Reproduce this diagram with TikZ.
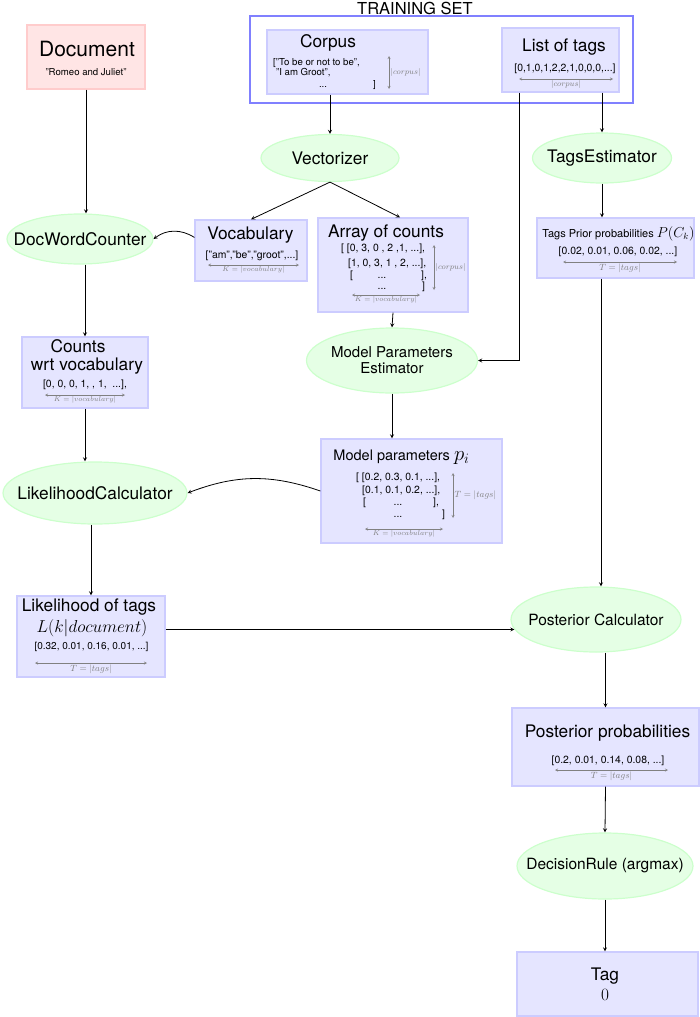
\documentclass[tikz,border=0pt]{standalone}
\usepackage{amsmath}
\usepackage[no-math]{fontspec}
\setmainfont{TeX Gyre Heros}
\usepackage{xcolor}
\usepackage{tikz}
\usetikzlibrary{arrows,shapes,positioning,calc}

\newcommand{\setfs}[1]{\fontsize{#1}{#1}\selectfont}
\newcommand{\proclabel}[1]{\makebox[0pt]{#1}}

\begin{document}
\begin{tikzpicture}[
    x=1pt, y=-1pt,
    box/.style={rectangle, draw=blue!20, fill=blue!10, line width=1.2pt, inner sep=0pt},
    docbox/.style={rectangle, draw=red!20, fill=red!10, line width=1.2pt, inner sep=0pt},
    proc/.style={ellipse, draw=green!20, fill=green!10, line width=1.2pt, inner sep=0pt, align=center, font=\setfs{17.3}},
    boxtitle/.style={anchor=base, inner sep=0pt, font=\setfs{17.3}},
    valtext/.style={anchor=base, inner sep=0pt, font=\setfs{10.4}},
    valleft/.style={anchor=base west, inner sep=0pt, font=\setfs{10.4}},
    arrow/.style={line width=0.8pt,->,>=stealth},
    dimline/.style={gray, line width=0.4pt,<->,>=stealth},
    dimlabel/.style={text=gray, inner sep=1.5pt, font=\setfs{8}},
    klabel/.style={dimlabel, font=\setfs{6.8}},
    tlabel/.style={dimlabel, font=\setfs{9}}
  ]
    \useasboundingbox (0,0) rectangle (700,1017);

    % Training set
    \node[rectangle, draw=blue!50, line width=1.2pt, minimum width=383pt, minimum height=87pt] (trainset) at (441.5,59.5) {};
    \node[font=\setfs{16.5}, inner sep=0pt] (trainlabel) at (415,8) {TRAINING SET};

    \node[box, minimum width=161pt, minimum height=64pt] (corpus) at (347.5,62) {};
    \node[boxtitle] (corpustitle) at (328,47) {Corpus};
    \node[valleft, font=\setfs{9.6}] (corpusl1) at (273,65) {["To be or not to be",};
    \node[valleft, font=\setfs{9.6}] (corpusl2) at (276,75) {"I am Groot",};
    \node[valtext, font=\setfs{9.6}] (corpusl3) at (323,87) {...};
    \node[valleft, font=\setfs{9.6}] (corpusl4) at (373,87) {]};
    \draw[dimline] (389,56) -- node[right, dimlabel] {$|corpus|$} (389,89);

    \node[box, minimum width=117pt, minimum height=64pt] (taglist) at (560.5,60) {};
    \node[boxtitle] (taglisttitle) at (564,51) {List of tags};
    \node[valtext] (taglistval) at (565,71) {[0,1,0,1,2,2,1,0,0,0,...]};
    \draw[dimline] (519,79) -- node[below, dimlabel] {$|corpus|$} (613,79);

    % Document
    \node[docbox, minimum width=118pt, minimum height=64pt] (docbox) at (86,57) {};
    \node[boxtitle, font=\setfs{21}] (doctitle) at (87,56) {Document};
    \node[valtext, font=\setfs{9.6}] (docval) at (86,75) {"Romeo and Juliet"};

    % Vectorizer and its outputs
    \node[proc, minimum width=138pt, minimum height=47pt] (vectorizer) at (330,158) {\proclabel{Vectorizer}};

    \node[box, minimum width=112pt, minimum height=61pt] (vocab) at (251,250.5) {};
    \node[boxtitle] (vocabtitle) at (250.5,239) {Vocabulary};
    \node[valtext] (vocabval) at (252,258) {["am","be","groot",...]};
    \draw[dimline] (208,265) -- node[below, klabel] {$K=|vocabulary|$} (299,265);

    \node[box, minimum width=150pt, minimum height=94pt] (arraybox) at (393,265) {};
    \node[boxtitle] (arraytitle) at (386,237) {Array of counts};
    \node[valleft] (arrayl1) at (341,251) {[ [0, 3, 0 , 2 ,1, ...],};
    \node[valleft] (arrayl2) at (348,266) {[1, 0, 3, 1 , 2, ...],};
    \node[valleft] (arrayl3a) at (350,278) {[};
    \node[valtext] (arrayl3b) at (382,278) {...};
    \node[valleft] (arrayl3c) at (421,278) {],};
    \node[valtext] (arrayl4a) at (382,289) {...};
    \node[valleft] (arrayl4b) at (422,289) {]};
    \draw[dimline] (434,245) -- node[right, dimlabel] {$|corpus|$} (434,290);
    \draw[dimline] (352,295) -- node[below, klabel] {$K=|vocabulary|$} (420,295);

    % Tags prior
    \node[proc, minimum width=139pt, minimum height=50pt] (tagsest) at (602,158) {\proclabel{TagsEstimator}};
    \node[box, minimum width=157pt, minimum height=60pt] (prior) at (615.5,248) {};
    \node[boxtitle, font=\setfs{11}] (priortitle) at (618.5,237) {Tags Prior probabilities {\setfs{13.5}$P(C_k)$}};
    \node[valtext] (priorval) at (618,254) {[0.02, 0.01, 0.06, 0.02, ...]};
    \draw[dimline] (563,262) -- node[below, tlabel] {$T=|tags|$} (677,262);

    % Document side
    \node[proc, minimum width=146pt, minimum height=50pt] (docword) at (80,239) {\proclabel{DocWordCounter}};
    \node[box, minimum width=126pt, minimum height=71pt] (counts) at (85,372.5) {};
    \node[boxtitle] (countstitle1) at (78,352) {Counts};
    \node[boxtitle] (countstitle2) at (87,370) {wrt vocabulary};
    \node[valtext] (countsval) at (85,387) {[0, 0, 0, 1, , 1, \ ...],};
    \draw[dimline] (45,395) -- node[below, klabel] {$K=|vocabulary|$} (125,395);

    % Model parameters
    \node[proc, minimum width=171pt, minimum height=65pt, font=\setfs{15}] (mpe) at (392,360.5) {\proclabel{Model Parameters}\\[1pt]\proclabel{Estimator}};
    \node[box, minimum width=181pt, minimum height=104pt] (params) at (411.5,491) {};
    \node[boxtitle, font=\setfs{14.5}] (paramstitle) at (401.5,460) {Model parameters {\setfs{20}$p_i$}};
    \node[valleft] (paramsl1) at (356,480) {[ [0.2, 0.3, 0.1, ...],};
    \node[valleft] (paramsl2) at (362,493) {[0.1, 0.1, 0.2, ...],};
    \node[valleft] (paramsl3a) at (363,505) {[};
    \node[valtext] (paramsl3b) at (398,505) {...};
    \node[valleft] (paramsl3c) at (433,505) {],};
    \node[valtext] (paramsl4a) at (398,517) {...};
    \node[valleft] (paramsl4b) at (442,517) {]};
    \draw[dimline] (453,473) -- node[right, tlabel] {$T=|tags|$} (453,518);
    \draw[dimline] (365,529) -- node[below, klabel] {$K=|vocabulary|$} (443,529);

    % Likelihood
    \node[proc, minimum width=184pt, minimum height=62pt] (likecalc) at (95,493) {\proclabel{LikelihoodCalculator}};
    \node[box, minimum width=148pt, minimum height=81pt] (likebox) at (91,636.5) {};
    \node[boxtitle] (liketitle) at (89,611.5) {Likelihood of tags};
    \node[boxtitle, font=\setfs{16.5}] (likemath) at (92,632) {$L(k|document)$};
    \node[valtext, font=\setfs{10}] (likeval) at (91.5,649) {[0.32, 0.01, 0.16, 0.01, ...]};
    \draw[dimline] (35,663) -- node[below, tlabel] {$T=|tags|$} (147,663);

    % Posterior and decision
    \node[proc, minimum width=170pt, minimum height=65pt, font=\setfs{15.5}] (postcalc) at (596,619.5) {\proclabel{Posterior Calculator}};
    \node[box, minimum width=187pt, minimum height=78pt] (postprob) at (605.5,747) {};
    \node[boxtitle] (posttitle) at (607.5,737) {Posterior probabilities};
    \node[valtext] (postval) at (608,763) {[0.2, 0.01, 0.14, 0.08, ...]};
    \draw[dimline] (555,770) -- node[below, tlabel] {$T=|tags|$} (668,770);

    \node[proc, minimum width=176pt, minimum height=66pt, font=\setfs{15.5}] (decision) at (605,866) {\proclabel{DecisionRule (argmax)}};
    \node[box, minimum width=181pt, minimum height=64pt] (tag) at (607.5,984) {};
    \node[boxtitle] (tagtitle) at (605,980) {Tag};
    \node[boxtitle] (tagval) at (605,1000) {$0$};

    % Training connections
    \draw[arrow] (vectorizer.north |- corpus.south) -- (vectorizer.north);
    \draw[arrow] (vectorizer.south) -- (vocab.north);
    \draw[arrow] (vectorizer.south) -- ([xshift=7pt]arraybox.north);
    \draw[arrow] (tagsest.north |- taglist.south) -- (tagsest.north);
    \draw[arrow] ([xshift=-41.5pt]taglist.south) |- (mpe.east);
    \draw[arrow] (arraybox.south) -- (mpe.north);
    \draw[arrow] (mpe.south) -- (mpe.south |- params.north);
    \draw[arrow] (tagsest.south) -- (tagsest.south |- prior.north);

    % Document connections
    \draw[arrow] (docbox.south) -- (docbox.south |- docword.north);
    \draw[arrow] (vocab.167) to[bend right=35] (docword.east);
    \draw[arrow] (counts.north |- docword.south) -- (counts.north);
    \draw[arrow] (counts.south) -- (counts.south |- likecalc.north);
    \draw[arrow] (params.west) to[bend right=20] (likecalc.east);
    \draw[arrow] (likebox.north |- likecalc.south) -- (likebox.north);

    % Posterior connections
    \draw[arrow] (likebox.east |- postcalc.187) -- (postcalc.187);
    \draw[arrow] ([xshift=-14.5pt]prior.south) -- ([xshift=-14.5pt]prior.south |- postcalc.north);
    \draw[arrow] (postprob.north |- postcalc.south) -- (postprob.north);
    \draw[arrow] (postprob.south) -- (decision.north);
    \draw[arrow] (decision.south) -- (decision.south |- tag.north);

  \end{tikzpicture}
\end{document}
